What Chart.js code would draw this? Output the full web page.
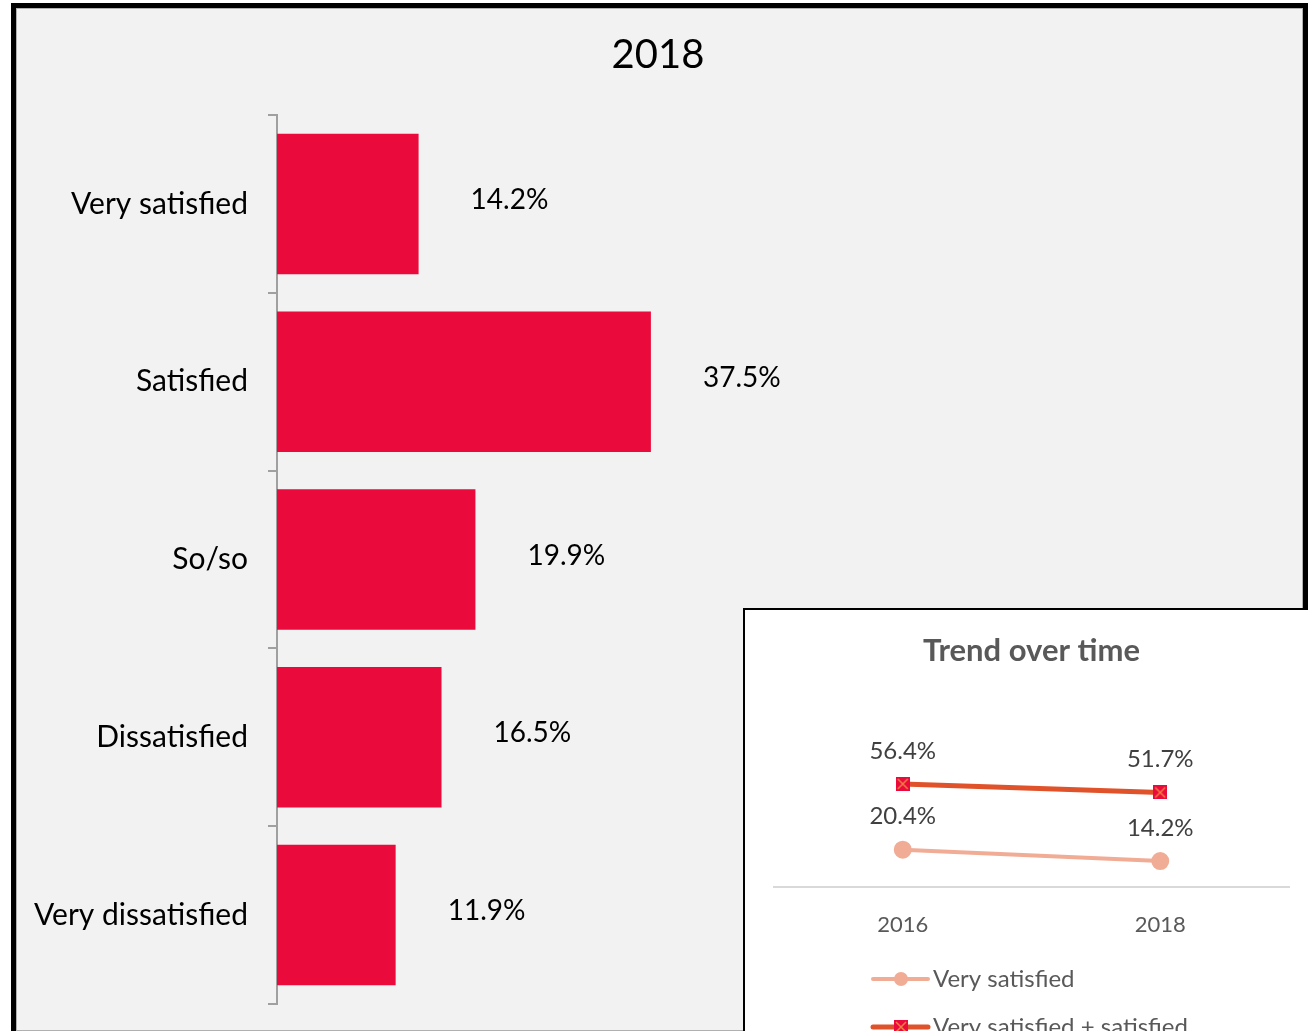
<!DOCTYPE html>
<html>
<head>
<meta charset="utf-8">
<script src="https://cdn.jsdelivr.net/npm/chart.js@4"></script>
<style>
  html, body { margin: 0; padding: 0; width: 1308px; height: 1031px; overflow: hidden; background: #fff; }
  #panel {
    position: absolute; left: 11px; top: 3px; width: 1297px; height: 1033px;
    box-sizing: border-box; border: 5px solid #000; background: #f2f2f2;
    box-shadow: inset 0 0 0 1px #b0b0b0;
  }
  #main-wrap { position: absolute; left: 16px; top: 8px; width: 1284px; height: 1034px; }
  #inset {
    position: absolute; left: 743px; top: 608px; width: 620px; height: 500px;
    box-sizing: border-box; border: 2px solid #000; background: #fff;
  }
  #trend-wrap { position: absolute; left: 745px; top: 610px; width: 572px; height: 460px; }
</style>
</head>
<body>
<div id="panel"></div>
<div id="main-wrap"><canvas id="main-chart"></canvas></div>
<div id="inset"></div>
<div id="trend-wrap"><canvas id="trend-chart"></canvas></div>
<script>
  // Data
  const categories = ["Very satisfied", "Satisfied", "So/so", "Dissatisfied", "Very dissatisfied"]
  const shares2018 = [14.2, 37.5, 19.9, 16.5, 11.9]
  const trendYears = ["2016", "2018"]
  const verySatisfied = [20.4, 14.2]
  const satisfiedOrBetter = [56.4, 51.7]

  const FONT = "Lato, 'Open Sans', sans-serif"

  // Value labels to the right of each bar
  const barLabels = {
    id: "barLabels",
    afterDatasetsDraw(chart) {
      const ctx = chart.ctx
      const meta = chart.getDatasetMeta(0)
      ctx.save()
      ctx.font = "28px " + FONT
      ctx.fillStyle = "#000"
      ctx.textAlign = "left"
      ctx.textBaseline = "middle"
      meta.data.forEach((bar, i) => {
        ctx.fillText(shares2018[i].toFixed(1) + "%", bar.x + 52, bar.y - 4)
      })
      ctx.restore()
    },
  }

  new Chart(document.getElementById("main-chart"), {
    type: "bar",
    data: {
      labels: categories,
      datasets: [
        {
          data: shares2018,
          backgroundColor: "#EA0A3C",
          borderWidth: 0,
          barPercentage: 0.79,
          categoryPercentage: 1,
        },
      ],
    },
    options: {
      indexAxis: "y",
      responsive: true,
      maintainAspectRatio: false,
      animation: false,
      layout: { padding: 0 },
      plugins: {
        legend: { display: false },
        tooltip: { enabled: false },
        title: {
          display: true,
          text: "2018",
          color: "#000",
          font: { family: FONT, size: 40, weight: "normal" },
          padding: { top: 23, bottom: 36 },
        },
      },
      scales: {
        x: { display: false, min: 0, max: 102.6 },
        y: {
          afterFit(scale) {
            scale.width = 261
          },
          grid: { drawOnChartArea: false, drawTicks: true, tickLength: 9, color: "#a0a0a0", lineWidth: 2 },
          border: { display: true, color: "#a0a0a0", width: 2 },
          ticks: { color: "#000", font: { family: FONT, size: 30 }, padding: 20 },
        },
      },
    },
    plugins: [barLabels],
  })

  // Square marker with a cross
  function squareCross() {
    const c = document.createElement("canvas")
    c.width = 14
    c.height = 14
    const g = c.getContext("2d")
    g.fillStyle = "#EA0A3C"
    g.fillRect(0, 0, 14, 14)
    g.strokeStyle = "#F08040"
    g.lineWidth = 1.5
    g.beginPath()
    g.moveTo(2, 2)
    g.lineTo(12, 12)
    g.moveTo(12, 2)
    g.lineTo(2, 12)
    g.stroke()
    return c
  }
  const squareMarker = squareCross()

  const LIGHT = "#F1AC96"
  const DARK = "#E0522A"

  // Point labels and custom legend for the trend chart
  const trendExtras = {
    id: "trendExtras",
    afterDatasetsDraw(chart) {
      const ctx = chart.ctx
      ctx.save()
      ctx.font = "24px " + FONT
      ctx.fillStyle = "#404040"
      ctx.textAlign = "center"
      ctx.textBaseline = "middle"
      chart.data.datasets.forEach((ds, di) => {
        chart.getDatasetMeta(di).data.forEach((pt, i) => {
          ctx.fillText(ds.data[i].toFixed(1) + "%", pt.x, pt.y - 33)
        })
      })

      // legend
      const lx = 873 - 745
      const rows = [
        { y: 979 - 610, label: chart.data.datasets[0].label, color: LIGHT, width: 4, marker: "circle" },
        { y: 1027 - 610, label: chart.data.datasets[1].label, color: DARK, width: 5, marker: "square" },
      ]
      rows.forEach((r) => {
        ctx.strokeStyle = r.color
        ctx.lineWidth = r.width
        ctx.lineCap = "round"
        ctx.beginPath()
        ctx.moveTo(lx, r.y)
        ctx.lineTo(lx + 55, r.y)
        ctx.stroke()
        if (r.marker === "circle") {
          ctx.fillStyle = r.color
          ctx.beginPath()
          ctx.arc(lx + 28, r.y, 7, 0, Math.PI * 2)
          ctx.fill()
        } else {
          ctx.drawImage(squareMarker, lx + 21, r.y - 7)
        }
        ctx.fillStyle = "#595959"
        ctx.textAlign = "left"
        ctx.fillText(r.label, lx + 60, r.y)
      })
      ctx.restore()
    },
  }

  new Chart(document.getElementById("trend-chart"), {
    type: "line",
    data: {
      labels: trendYears,
      datasets: [
        {
          label: "Very satisfied",
          data: verySatisfied,
          borderColor: LIGHT,
          backgroundColor: LIGHT,
          borderWidth: 4,
          pointRadius: 7,
          pointStyle: "circle",
        },
        {
          label: "Very satisfied + satisfied",
          data: satisfiedOrBetter,
          borderColor: DARK,
          backgroundColor: "#EA0A3C",
          borderWidth: 5,
          pointStyle: squareMarker,
        },
      ],
    },
    options: {
      responsive: true,
      maintainAspectRatio: false,
      animation: false,
      layout: { padding: { left: 29, right: 28, top: 0, bottom: 120 } },
      plugins: {
        legend: { display: false },
        tooltip: { enabled: false },
        title: {
          display: true,
          text: "Trend over time",
          color: "#595959",
          font: { family: FONT, size: 31, weight: "bold" },
          padding: { top: 22, bottom: 35 },
        },
      },
      scales: {
        x: {
          offset: true,
          afterFit(scale) {
            scale.height = 63
          },
          grid: { display: false },
          border: { display: true, color: "#d9d9d9", width: 2 },
          ticks: { color: "#595959", font: { family: FONT, size: 22 }, padding: 17 },
        },
        y: { display: false, min: 0, max: 100 },
      },
    },
    plugins: [trendExtras],
  })
</script>
</body>
</html>
